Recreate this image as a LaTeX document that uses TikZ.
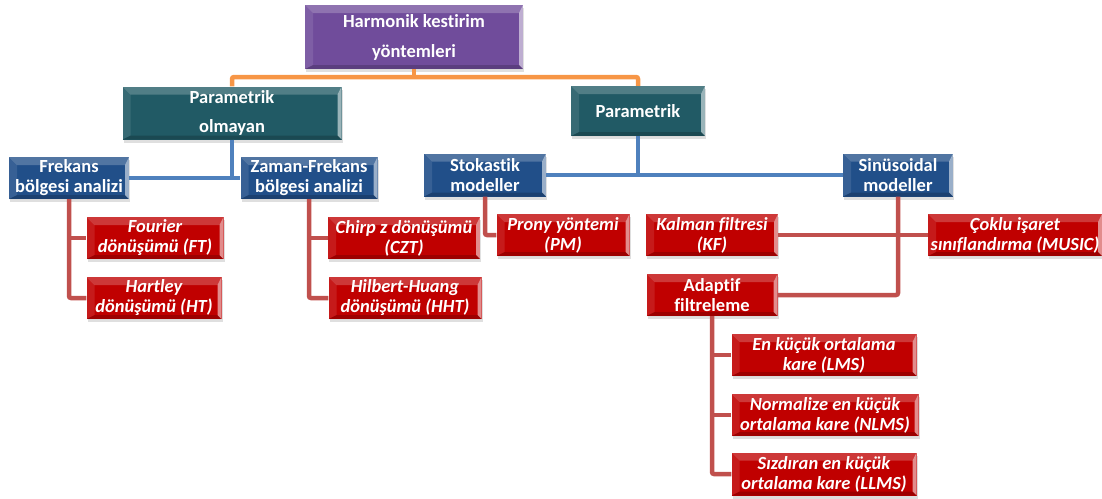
\documentclass[tikz,border=0pt]{standalone}
\usepackage{fontspec}
\setmainfont{Carlito}[Ligatures=NoCommon]
\usetikzlibrary{shadows}

\definecolor{rootfill}{RGB}{112,76,155}
\definecolor{tealfill}{RGB}{33,90,101}
\definecolor{bluefill}{RGB}{33,79,137}
\definecolor{redfill}{RGB}{192,0,0}
\definecolor{orangeline}{RGB}{247,150,70}
\definecolor{blueline}{RGB}{79,129,189}
\definecolor{redline}{RGB}{192,80,77}

\tikzset{
  bevel/.style={path picture={
      % top
      \fill[white,opacity=0.22] (path picture bounding box.north west) -- (path picture bounding box.north east)
        -- ([xshift=-4pt,yshift=-8pt]path picture bounding box.north east) -- ([xshift=8pt,yshift=-8pt]path picture bounding box.north west) -- cycle;
      % left
      \fill[white,opacity=0.10] (path picture bounding box.north west) -- ([xshift=8pt,yshift=-8pt]path picture bounding box.north west)
        -- ([xshift=8pt,yshift=4pt]path picture bounding box.south west) -- (path picture bounding box.south west) -- cycle;
      % right
      \fill[white,opacity=0.55] (path picture bounding box.north east) -- ([xshift=-4pt,yshift=-8pt]path picture bounding box.north east)
        -- ([xshift=-4pt,yshift=4pt]path picture bounding box.south east) -- (path picture bounding box.south east) -- cycle;
      % bottom
      \fill[black,opacity=0.18] (path picture bounding box.south west) -- ([xshift=8pt,yshift=4pt]path picture bounding box.south west)
        -- ([xshift=-4pt,yshift=4pt]path picture bounding box.south east) -- (path picture bounding box.south east) -- cycle;
  }},
  box/.style={inner sep=0pt, align=center, text=white, bevel,
    font=\bfseries\fontsize{18.5}{20}\selectfont,
    drop shadow={opacity=0.25, shadow xshift=1pt, shadow yshift=-3pt}},
  rootbox/.style={box, fill=rootfill, font=\bfseries\fontsize{18.5}{30}\selectfont},
  tealbox/.style={box, fill=tealfill},
  bluebox/.style={box, fill=bluefill},
  redbox/.style={box, fill=redfill, font=\bfseries\itshape\fontsize{18.5}{20}\selectfont},
  conn/.style={line width=4.5pt, rounded corners=2pt},
}

\begin{document}
\begin{tikzpicture}[x=1pt, y=-1pt]
  \useasboundingbox (0,0) rectangle (1102,498);

  % level 0
  \node[rootbox, minimum width=218pt, minimum height=64pt] (root) at (414,37) {Harmonik kestirim\\yöntemleri};
  % level 1
  \node[tealbox, minimum width=219pt, minimum height=53pt, font=\bfseries\fontsize{18.5}{29}\selectfont] (nonpar) at (232,113) {Parametrik\\olmayan};
  \node[tealbox, minimum width=134pt, minimum height=50pt] (par) at (638,111) {Parametrik};
  % level 2
  \node[bluebox, minimum width=120pt, minimum height=42pt] (freq) at (69,178) {Frekans\\bölgesi analizi};
  \node[bluebox, minimum width=137pt, minimum height=42pt] (tfreq) at (309,178) {Zaman-Frekans\\bölgesi analizi};
  \node[bluebox, minimum width=122pt, minimum height=43pt] (stoch) at (485,175) {Stokastik\\modeller};
  \node[bluebox, minimum width=110pt, minimum height=43pt] (sinus) at (898,175) {Sinüsoidal\\modeller};
  % level 3
  \node[redbox, minimum width=137pt, minimum height=42pt] (ft) at (155,238) {Fourier\\dönüşümü (FT)};
  \node[redbox, minimum width=135pt, minimum height=42pt] (ht) at (154,298) {Hartley\\dönüşümü (HT)};
  \node[redbox, minimum width=152pt, minimum height=42pt] (czt) at (404,238) {Chirp z dönüşümü\\(CZT)};
  \node[redbox, minimum width=153pt, minimum height=42pt] (hht) at (405,298) {Hilbert-Huang\\dönüşümü (HHT)};
  \node[redbox, minimum width=133pt, minimum height=42pt] (pm) at (563,235) {Prony yöntemi\\(PM)};
  \node[redbox, minimum width=132pt, minimum height=42pt] (kf) at (712,235) {Kalman filtresi\\(KF)};
  \node[redbox, minimum width=174pt, minimum height=42pt] (music) at (1015,235) {Çoklu işaret\\sınıflandırma (MUSIC)};
  \node[redbox, minimum width=131pt, minimum height=42pt, font=\bfseries\fontsize{18.5}{20}\selectfont] (adapt) at (712,295) {Adaptif\\filtreleme};
  % level 4
  \node[redbox, minimum width=185pt, minimum height=42pt] (lms) at (824,355) {En küçük ortalama\\kare (LMS)};
  \node[redbox, minimum width=187pt, minimum height=42pt] (nlms) at (825,415) {Normalize en küçük\\ortalama kare (NLMS)};
  \node[redbox, minimum width=185pt, minimum height=43pt] (llms) at (824,474) {Sızdıran en küçük\\ortalama kare (LLMS)};

  % connectors
  \coordinate (rootj) at (414,77);
  \draw[conn, orangeline] (root.south) -- (rootj);
  \draw[conn, orangeline] (nonpar.north) |- (rootj) -| (par.north);

  \draw[conn, blueline] (nonpar.south) -- (nonpar.south |- freq.east);
  \draw[conn, blueline] (freq.east) -- (tfreq.west);
  \draw[conn, blueline] (par.south) -- (par.south |- stoch.east);
  \draw[conn, blueline] (stoch.east) -- (sinus.west);

  \draw[conn, redline] (freq.south) |- (ht.west);
  \draw[conn, redline] (freq.south |- ft.west) -- (ft.west);
  \draw[conn, redline] (tfreq.south) |- (hht.west);
  \draw[conn, redline] (tfreq.south |- czt.west) -- (czt.west);
  \draw[conn, redline] (stoch.south) |- (pm.west);
  \draw[conn, redline] (kf.east) -- (music.west);
  \draw[conn, redline] (sinus.south) |- (adapt.east);
  \draw[conn, redline] (adapt.south) |- (llms.west);
  \draw[conn, redline] (adapt.south |- lms.west) -- (lms.west);
  \draw[conn, redline] (adapt.south |- nlms.west) -- (nlms.west);
\end{tikzpicture}
\end{document}
